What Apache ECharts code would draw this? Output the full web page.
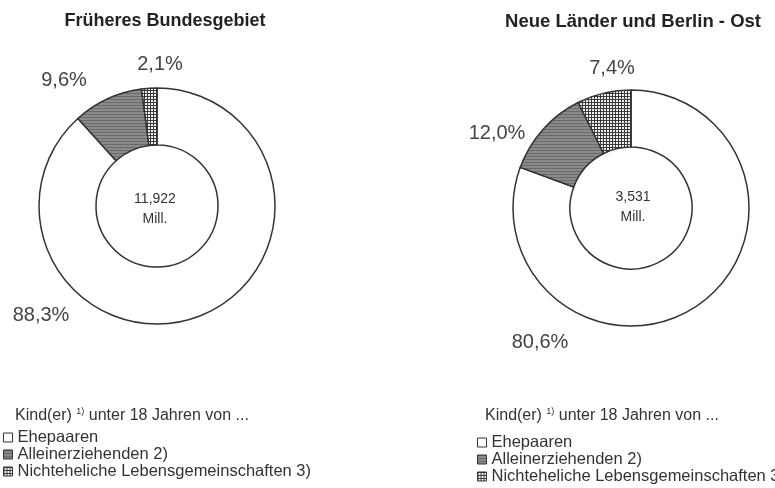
<!DOCTYPE html>
<html>
<head>
<meta charset="utf-8">
<script src="https://cdn.jsdelivr.net/npm/echarts@6/dist/echarts.min.js"></script>
<style>
  html, body { margin: 0; padding: 0; background: #fff; }
  #chart { width: 775px; height: 488px; }
</style>
</head>
<body>
<div id="chart"></div>
<script>
// Kategorien
var categories = ['Ehepaaren', 'Alleinerziehenden 2)', 'Nichteheliche Lebensgemeinschaften 3)']
// Anteile in %
var westValues = [88.3, 9.6, 2.1]
var eastValues = [80.6, 12.0, 7.4]
var westTotal = '11,922'
var eastTotal = '3,531'

// label spots (text centres) per slice
var westLabelPos = [[41, 315], [64, 80], [160, 64]]
var eastLabelPos = [[540, 342], [497, 133], [612, 68]]

function makePattern(kind) {
  var c = document.createElement('canvas')
  var ctx = c.getContext('2d')
  if (kind === 'lines') {
    c.width = 4; c.height = 3
    ctx.fillStyle = '#8a8a8a'
    ctx.fillRect(0, 0, 4, 3)
    ctx.fillStyle = '#6a6a6a'
    ctx.fillRect(0, 0, 4, 1)
  } else {
    c.width = 3; c.height = 3
    ctx.fillStyle = '#f0f0f0'
    ctx.fillRect(0, 0, 3, 3)
    ctx.fillStyle = '#3a3a3a'
    ctx.fillRect(0, 0, 3, 1)
    ctx.fillRect(0, 0, 1, 3)
  }
  return { image: c, repeat: 'repeat' }
}

var fills = ['#ffffff', makePattern('lines'), makePattern('grid')]

function buildData(values) {
  return values.map(function (v, i) {
    return { name: categories[i], value: v, itemStyle: { color: fills[i] } }
  })
}

function fmt(v) {
  return v.toFixed(1).replace('.', ',') + '%'
}

function pieSeries(values, center, labelPos) {
  return {
    type: 'pie',
    center: center,
    radius: [61, 118],
    startAngle: 90,
    clockwise: true,
    animation: false,
    silent: true,
    data: buildData(values),
    itemStyle: { borderColor: '#333', borderWidth: 1.5 },
    label: {
      show: true,
      position: 'inside',
      formatter: function (p) { return fmt(p.value) },
      fontFamily: 'Liberation Sans',
      fontSize: 20,
      color: '#444'
    },
    labelLine: { show: false },
    labelLayout: function (p) {
      var pos = labelPos[p.dataIndex]
      return { x: pos[0], y: pos[1], align: 'center', verticalAlign: 'middle', hideOverlap: false }
    }
  }
}

var sansFont = 'Liberation Sans, Arial'
var centerStyle = { fontFamily: sansFont, fontSize: 14, fontWeight: 'normal', color: '#333', lineHeight: 20, align: 'center' }
var noteStyle = {
  fontFamily: sansFont, fontSize: 16, fontWeight: 'normal', color: '#333',
  rich: { sup: { fontFamily: sansFont, fontSize: 9, color: '#333', verticalAlign: 'top', padding: [0, 0, 8, 0] } }
}

function legendBlock(left, top, gap) {
  return {
    orient: 'vertical', left: left, top: top, height: 488 - top, padding: 0,
    itemWidth: 9, itemHeight: 9, itemGap: 0,
    icon: 'rect', selectedMode: false, data: categories,
    itemStyle: { borderColor: '#333', borderWidth: 1 },
    textStyle: { fontFamily: sansFont, fontSize: 16.5, color: '#333', lineHeight: gap, padding: [0, 0, 0, 0] }
  }
}

var option = {
  backgroundColor: '#fff',
  title: [
    { text: 'Früheres Bundesgebiet', left: 160, top: 7, textAlign: 'center',
      textStyle: { fontFamily: sansFont, fontSize: 18, fontWeight: 'bold', color: '#222' } },
    { text: 'Neue Länder und Berlin - Ost', left: 628, top: 7, textAlign: 'center',
      textStyle: { fontFamily: sansFont, fontSize: 18.5, fontWeight: 'bold', color: '#222' } },
    { text: westTotal + '\nMill.', left: 150, top: 184, textAlign: 'center', textStyle: centerStyle },
    { text: eastTotal + '\nMill.', left: 628, top: 182, textAlign: 'center', textStyle: centerStyle },
    { text: 'Kind(er) {sup|1)} unter 18 Jahren von ...', left: 10, top: 402, textStyle: noteStyle },
    { text: 'Kind(er) {sup|1)} unter 18 Jahren von ...', left: 480, top: 402, textStyle: noteStyle }
  ],
  legend: [
    legendBlock(3, 429, 16),
    legendBlock(477, 434, 17)
  ],
  series: [
    pieSeries(westValues, [157, 206], westLabelPos),
    pieSeries(eastValues, [631, 208], eastLabelPos)
  ]
}

var chart = echarts.init(document.getElementById('chart'), null, { renderer: 'canvas' })
chart.setOption(option)
</script>
</body>
</html>
